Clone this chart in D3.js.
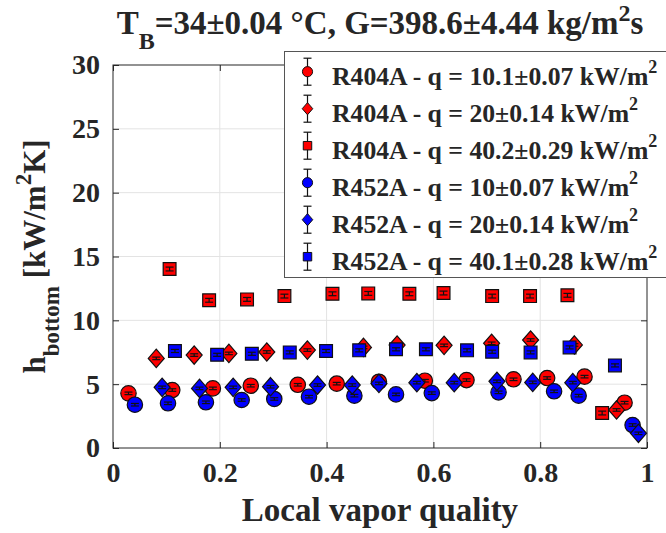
<!DOCTYPE html>
<html>
<head>
<meta charset="utf-8">
<script src="https://cdn.jsdelivr.net/npm/d3@7"></script>
<style>
  body { margin: 0; background: #fff; }
  svg text { font-family: "Liberation Serif", "Times New Roman", Times, serif; font-weight: bold; fill: #262626; }
</style>
</head>
<body>
<div id="holder"></div>
<script>
const w = 666;
const h = 533;
const margin = {left: 113, top: 65, right: 19, bottom: 85};
const serif = '"Liberation Serif", "Times New Roman", Times, serif';

// TICKS
const xTicks = [0, 0.2, 0.4, 0.6, 0.8, 1];
const yTicks = [0, 5, 10, 15, 20, 25, 30];

// DATA - R404A
const x404_10 = [0.029, 0.111, 0.187, 0.258, 0.346, 0.419, 0.498, 0.584, 0.662, 0.750, 0.813, 0.883, 0.958];
const h404_10 = [4.28, 4.54, 4.67, 4.88, 4.95, 5.04, 5.19, 5.27, 5.32, 5.38, 5.48, 5.59, 3.55];
const x404_20 = [0.081, 0.152, 0.217, 0.288, 0.364, 0.469, 0.532, 0.620, 0.709, 0.782, 0.864, 0.943];
const h404_20 = [7.02, 7.28, 7.41, 7.52, 7.67, 7.88, 8.06, 8.04, 8.20, 8.46, 8.07, 2.98];
const x404_40 = [0.106, 0.180, 0.251, 0.321, 0.411, 0.478, 0.555, 0.619, 0.710, 0.781, 0.851, 0.916];
const h404_40 = [14.02, 11.57, 11.64, 11.90, 12.08, 12.11, 12.08, 12.14, 11.90, 11.90, 11.96, 2.74];

// DATA - R452A
const x452_10 = [0.041, 0.103, 0.174, 0.241, 0.302, 0.367, 0.452, 0.530, 0.597, 0.722, 0.826, 0.872, 0.973];
const h452_10 = [3.39, 3.50, 3.58, 3.76, 3.84, 4.02, 4.10, 4.20, 4.30, 4.36, 4.44, 4.10, 1.80];
const x452_20 = [0.092, 0.162, 0.225, 0.295, 0.383, 0.448, 0.498, 0.569, 0.639, 0.719, 0.786, 0.861, 0.984];
const h452_20 = [4.75, 4.67, 4.75, 4.80, 4.93, 4.93, 5.06, 5.12, 5.12, 5.22, 5.14, 5.12, 1.15];
const x452_40 = [0.116, 0.195, 0.260, 0.331, 0.399, 0.461, 0.530, 0.586, 0.663, 0.710, 0.782, 0.855, 0.940];
const h452_40 = [7.60, 7.30, 7.38, 7.49, 7.60, 7.65, 7.73, 7.73, 7.65, 7.54, 7.49, 7.88, 6.47];

// uncertainty of h (kW/m2K), one value per series
const errs = [0.1, 0.1, 0.15, 0.1, 0.1, 0.12];

const labels = [
  "R404A - q = 10.1\u00B10.07 kW/m",
  "R404A - q = 20\u00B10.14 kW/m",
  "R404A - q = 40.2\u00B10.29 kW/m",
  "R452A - q = 10\u00B10.07 kW/m",
  "R452A - q = 20\u00B10.14 kW/m",
  "R452A - q = 40.1\u00B10.28 kW/m"
];

const series = [
  {label: labels[0], xs: x404_10, ys: h404_10, err: errs[0], color: "#ff0000", shape: "circle"},
  {label: labels[1], xs: x404_20, ys: h404_20, err: errs[1], color: "#ff0000", shape: "diamond"},
  {label: labels[2], xs: x404_40, ys: h404_40, err: errs[2], color: "#ff0000", shape: "square"},
  {label: labels[3], xs: x452_10, ys: h452_10, err: errs[3], color: "#0000ff", shape: "circle"},
  {label: labels[4], xs: x452_20, ys: h452_20, err: errs[4], color: "#0000ff", shape: "diamond"},
  {label: labels[5], xs: x452_40, ys: h452_40, err: errs[5], color: "#0000ff", shape: "square"}
];

// CREATE SVG
const svg = d3.select("#holder")
  .append("svg")
  .attr("width", w)
  .attr("height", h)
  .attr("font-family", serif);

const xScale = d3.scaleLinear()
  .domain([0, 1])
  .range([margin.left, w - margin.right]);

const yScale = d3.scaleLinear()
  .domain([0, 30])
  .range([h - margin.bottom, margin.top]);

const x0 = xScale(0), x1 = xScale(1), y0 = yScale(0), y1 = yScale(30);

// GRID
svg.append("g")
  .selectAll("line")
  .data(xTicks.slice(1, -1))
  .enter()
  .append("line")
  .attr("x1", d => xScale(d)).attr("x2", d => xScale(d))
  .attr("y1", y0).attr("y2", y1)
  .attr("stroke", "#e3e3e3");

svg.append("g")
  .selectAll("line")
  .data(yTicks.slice(1, -1))
  .enter()
  .append("line")
  .attr("x1", x0).attr("x2", x1)
  .attr("y1", d => yScale(d)).attr("y2", d => yScale(d))
  .attr("stroke", "#e3e3e3");

// AXES (ticks inside, box)
const tickLen = 6;
const xAxis = d3.axisBottom(xScale).tickValues(xTicks).tickSize(-tickLen).tickPadding(14).tickFormat(d3.format(""));
const yAxis = d3.axisLeft(yScale).tickValues(yTicks).tickSize(-tickLen).tickPadding(13);

const gx = svg.append("g").attr("transform", `translate(0,${y0})`).call(xAxis);
const gy = svg.append("g").attr("transform", `translate(${x0},0)`).call(yAxis);
svg.append("g").attr("transform", `translate(0,${y1})`)
  .call(d3.axisTop(xScale).tickValues(xTicks).tickSize(-tickLen).tickFormat(""));
svg.append("g").attr("transform", `translate(${x1},0)`)
  .call(d3.axisRight(yScale).tickValues(yTicks).tickSize(-tickLen).tickFormat(""));

svg.selectAll(".domain").remove();
svg.selectAll(".tick line").attr("stroke", "#262626");
svg.selectAll("g").attr("font-family", serif);
gx.selectAll("text").style("font-size", "28px").attr("fill", "#262626");
gy.selectAll("text").style("font-size", "28px").attr("fill", "#262626");

svg.append("rect")
  .attr("x", x0).attr("y", y1)
  .attr("width", x1 - x0).attr("height", y0 - y1)
  .attr("fill", "none")
  .attr("stroke", "#262626");

// MARKERS
function markerPath(shape, s) {
  if (shape === "circle") {
    const r = 7.7 * s;
    return `M${-r},0A${r},${r} 0 1,0 ${r},0A${r},${r} 0 1,0 ${-r},0Z`;
  }
  if (shape === "diamond") {
    const a = 9.2 * s, b = 8 * s;
    return `M0,${-a}L${b},0L0,${a}L${-b},0Z`;
  }
  const q = 6.4 * s;
  return `M${-q},${-q}H${q}V${q}H${-q}Z`;
}

function errorBar(g, cx, yTop, yBot, cap) {
  g.append("line").attr("x1", cx).attr("x2", cx).attr("y1", yTop).attr("y2", yBot);
  g.append("line").attr("x1", cx - cap).attr("x2", cx + cap).attr("y1", yTop).attr("y2", yTop);
  g.append("line").attr("x1", cx - cap).attr("x2", cx + cap).attr("y1", yBot).attr("y2", yBot);
}

series.forEach(s => {
  const pts = s.xs.map((x, i) => ({x: x, y: s.ys[i]}));
  const g = svg.append("g");
  pts.forEach(p => {
    const px = xScale(p.x), py = yScale(p.y);
    g.append("path")
      .attr("d", markerPath(s.shape, 1))
      .attr("transform", `translate(${px},${py})`)
      .attr("fill", s.color)
      .attr("stroke", "#111")
      .attr("stroke-width", 1.2);
    const eb = g.append("g").attr("stroke", "#111").attr("stroke-width", 1.2);
    errorBar(eb, px, yScale(p.y + s.err), yScale(p.y - s.err), 4);
  });
});

// TITLE
const title = svg.append("text")
  .attr("x", (x0 + x1) / 2)
  .attr("y", 34)
  .attr("text-anchor", "middle")
  .style("font-size", "33px");
title.append("tspan").text("T");
title.append("tspan").attr("dy", 15).style("font-size", "24px").text("B");
title.append("tspan").attr("dy", -15).text("=34\u00B10.04 \u00B0C, G=398.6\u00B14.44 kg/m");
title.append("tspan").attr("dy", -13).style("font-size", "24px").text("2");
title.append("tspan").attr("dy", 13).text("s");

// X LABEL
svg.append("text")
  .attr("x", (x0 + x1) / 2)
  .attr("y", 521)
  .attr("text-anchor", "middle")
  .style("font-size", "33px")
  .text("Local vapor quality");

// Y LABEL
const ylab = svg.append("text")
  .attr("transform", `translate(45,${(y0 + y1) / 2}) rotate(-90)`)
  .attr("text-anchor", "middle")
  .style("font-size", "31px");
ylab.append("tspan").text("h");
ylab.append("tspan").attr("dy", 14).style("font-size", "23px").text("bottom");
ylab.append("tspan").attr("dy", -14).text(" [kW/m");
ylab.append("tspan").attr("dy", -14).style("font-size", "23px").text("2");
ylab.append("tspan").attr("dy", 14).text("K]");

// LEGEND
const leg = svg.append("g");
leg.append("rect")
  .attr("x", 284.5).attr("y", 51.5)
  .attr("width", 400).attr("height", 226)
  .attr("fill", "#fff")
  .attr("stroke", "#555");

series.forEach((s, i) => {
  const cy = 71.7 + i * 37;
  const cx = 307.5;
  const eb = leg.append("g").attr("stroke", "#111").attr("stroke-width", 1.2);
  errorBar(eb, cx, cy - 13.5, cy + 13.5, 4);
  leg.append("path")
    .attr("d", markerPath(s.shape, 0.66))
    .attr("transform", `translate(${cx},${cy})`)
    .attr("fill", s.color)
    .attr("stroke", "#111")
    .attr("stroke-width", 1);
  const t = leg.append("text")
    .attr("x", 332)
    .attr("y", cy + 13)
    .style("font-size", "25.7px");
  t.append("tspan").text(s.label);
  t.append("tspan").attr("dy", -12).style("font-size", "18px").text("2");
});

svg.selectAll("text").style("font-family", serif);
</script>
</body>
</html>
